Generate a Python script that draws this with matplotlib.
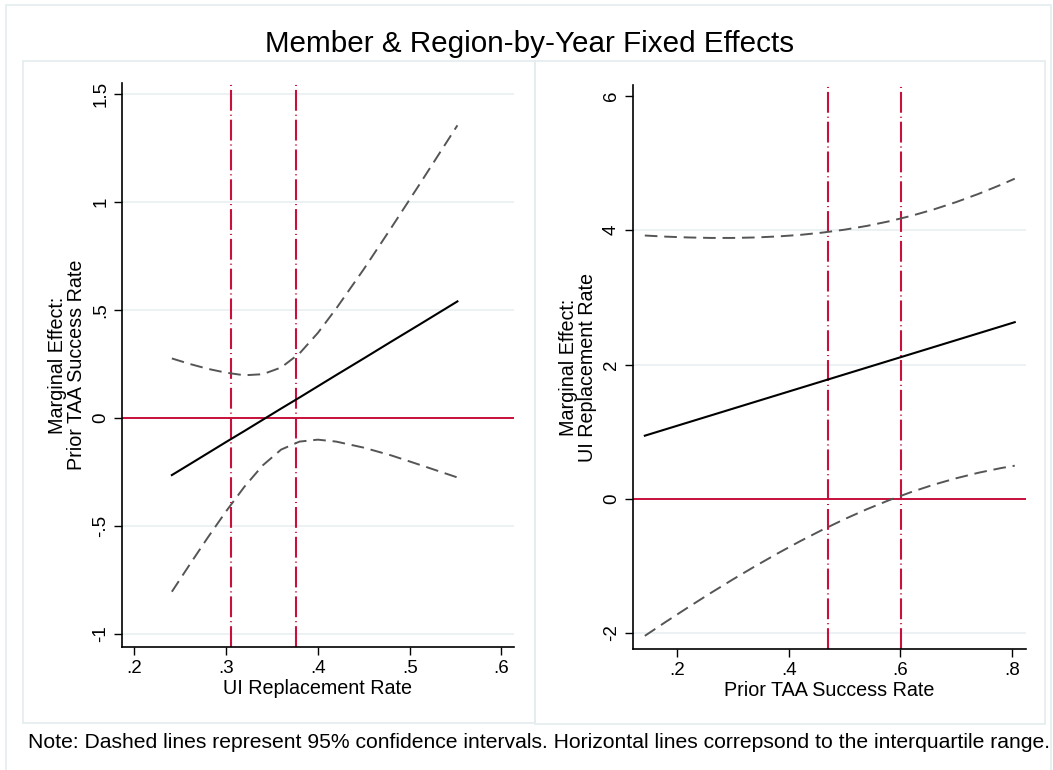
import numpy as np
import matplotlib
matplotlib.use("Agg")
import matplotlib.pyplot as plt
from matplotlib.patches import Rectangle

plt.rcParams['font.family'] = ['Liberation Sans', 'DejaVu Sans']

# ---- data ----
# left panel: marginal effect of prior TAA success rate over UI replacement rate
ui_x = [0.241, 0.26, 0.28, 0.30, 0.32, 0.34, 0.36, 0.38, 0.40, 0.42, 0.45, 0.48, 0.51, 0.552]
ui_me = [-0.264, -0.215, -0.163, -0.111, -0.060, -0.008, 0.044, 0.095, 0.147, 0.199, 0.276, 0.354, 0.431, 0.540]
ui_hi = [0.276, 0.251, 0.228, 0.210, 0.198, 0.203, 0.234, 0.299, 0.394, 0.507, 0.689, 0.881, 1.077, 1.355]
ui_lo = [-0.804, -0.681, -0.554, -0.432, -0.318, -0.219, -0.146, -0.109, -0.100, -0.109, -0.137, -0.173, -0.215, -0.275]
ui_iqr = [0.305, 0.376]

# right panel: marginal effect of UI replacement rate over prior TAA success rate
taa_x = [0.142, 0.18, 0.22, 0.26, 0.30, 0.34, 0.38, 0.42, 0.46, 0.50, 0.54, 0.58, 0.62, 0.66, 0.70, 0.74, 0.78, 0.805]
taa_me = [0.940, 1.037, 1.139, 1.241, 1.343, 1.445, 1.547, 1.649, 1.751, 1.853, 1.955, 2.057, 2.159, 2.261, 2.363, 2.465, 2.567, 2.631]
taa_hi = [3.922, 3.905, 3.893, 3.886, 3.886, 3.893, 3.908, 3.931, 3.965, 4.009, 4.065, 4.134, 4.216, 4.311, 4.420, 4.542, 4.677, 4.769]
taa_lo = [-2.042, -1.831, -1.615, -1.404, -1.200, -1.003, -0.814, -0.633, -0.463, -0.303, -0.155, -0.020, 0.102, 0.211, 0.306, 0.388, 0.457, 0.493]
taa_iqr = [0.471, 0.602]

left_xticks = [0.2, 0.3, 0.4, 0.5, 0.6]
left_xlabels = ['.2', '.3', '.4', '.5', '.6']
left_yticks = [-1, -0.5, 0, 0.5, 1, 1.5]
left_ylabels = ['-1', '-.5', '0', '.5', '1', '1.5']
left_grid = [-1, -0.5, 0.5, 1, 1.5]

right_xticks = [0.2, 0.4, 0.6, 0.8]
right_xlabels = ['.2', '.4', '.6', '.8']
right_yticks = [-2, 0, 2, 4, 6]
right_ylabels = ['-2', '0', '2', '4', '6']
right_grid = [-2, 2, 4]

RED = '#C8103C'
GRID = '#EAF1F3'
FRAME = '#E3ECEE'
CI = '#555555'

W, H = 1053, 770
fig = plt.figure(figsize=(W / 100, H / 100), dpi=100)
fig.patch.set_facecolor('white')


def px_rect(x0, y0, x1, y1, color):
    # rectangle in pixel coordinates (origin top-left)
    r = Rectangle((x0 / W, 1 - y1 / H), (x1 - x0) / W, (y1 - y0) / H,
                  transform=fig.transFigure, fill=False, edgecolor=color, lw=1.2)
    fig.add_artist(r)


# outer frame and sub-graph frames
px_rect(6, 5, 1051, 772, FRAME)
px_rect(23, 61, 535, 723, FRAME)
px_rect(535, 61, 1045, 724, FRAME)


def panel(rect, x, me, lo, hi, iqr, xlim, ylim, xt, xtl, yt, ytl, grid, xlabel, ylabel):
    ax = fig.add_axes(rect)
    ax.set_xlim(*xlim)
    ax.set_ylim(*ylim)
    for g in grid:
        ax.axhline(g, color=GRID, lw=1.3, zorder=0)
    ax.axhline(0, color=RED, lw=1.4, zorder=1)
    for v in iqr:
        ax.axvline(v, color=RED, lw=1.5, linestyle=(0, (10.0, 1.9, 0.5, 1.9)), zorder=1)
    ax.plot(x, hi, color=CI, lw=1.4, linestyle=(0, (6.5, 3.5)), zorder=2)
    ax.plot(x, lo, color=CI, lw=1.4, linestyle=(0, (6.5, 3.5)), zorder=2)
    ax.plot(x, me, color='black', lw=1.5, zorder=3)

    ax.set_xticks(xt)
    ax.set_xticklabels(xtl)
    ax.set_yticks(yt)
    ax.set_yticklabels(ytl, rotation=90, va='center')
    ax.tick_params(axis='both', length=6, width=1.0, color='black', labelsize=13.5, pad=3)
    for s in ['top', 'right']:
        ax.spines[s].set_visible(False)
    for s in ['left', 'bottom']:
        ax.spines[s].set_linewidth(1.2)
    ax.set_xlabel(xlabel, fontsize=14.2, labelpad=1.5)
    ax.text(-0.139, 0.5, ylabel, rotation=90, transform=ax.transAxes,
            ha='center', va='center', fontsize=14.2, linespacing=1.0)
    ax.patch.set_alpha(0)
    return ax


panel([0.1156, 0.1597, 0.3725, 0.7325], ui_x, ui_me, ui_lo, ui_hi, ui_iqr,
      (0.1864, 0.6136), (-1.060, 1.551),
      left_xticks, left_xlabels, left_yticks, left_ylabels, left_grid,
      'UI Replacement Rate', 'Marginal Effect:\nPrior TAA Success Rate')

panel([0.6007, 0.1571, 0.3741, 0.7325], taa_x, taa_me, taa_lo, taa_hi, taa_iqr,
      (0.120, 0.826), (-2.238, 6.164),
      right_xticks, right_xlabels, right_yticks, right_ylabels, right_grid,
      'Prior TAA Success Rate', 'Marginal Effect:\nUI Replacement Rate')

fig.text(530 / W, 1 - 44 / H, 'Member & Region-by-Year Fixed Effects',
         ha='center', va='center', fontsize=21.3)

fig.text(28.5 / W, 1 - 743 / H,
         'Note: Dashed lines represent 95% confidence intervals. '
         'Horizontal lines correpsond to the interquartile range.',
         ha='left', va='center', fontsize=15.2)

fig.savefig('out.png', dpi=100)
